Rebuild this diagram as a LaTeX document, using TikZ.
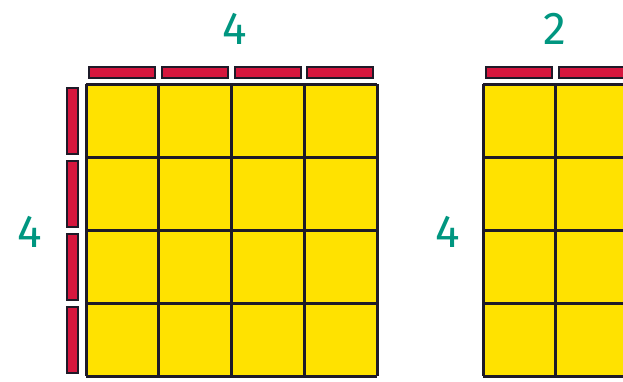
\documentclass[tikz,border=0pt]{standalone}
\usepackage{fontspec}
\setsansfont{Fira Sans}
\usetikzlibrary{positioning}

\definecolor{tileyellow}{RGB}{255,226,0}
\definecolor{barred}{RGB}{214,22,62}
\definecolor{numteal}{RGB}{0,150,128}
\definecolor{edgedark}{RGB}{30,26,40}

\tikzset{
  gridline/.style={line width=3pt,draw=edgedark},
  rodbar/.style={fill=barred,draw=edgedark,line width=2pt},
  numlabel/.style={text=numteal,font=\sffamily\fontsize{46}{46}\selectfont,inner sep=0pt}
}

\begin{document}
\begin{tikzpicture}[x=1pt,y=-1pt]
\useasboundingbox (0,0) rectangle (623,381);
\clip (0,0) rectangle (623,381);

% left square: 4 by 4
\fill[tileyellow] (86,84) rectangle (377,376);
\foreach \i in {0,...,4} {
  \draw[gridline] (86+\i*72.75,84) -- ++(0,292);
  \draw[gridline] (86,84+\i*73) -- ++(291,0);
}
\foreach \i in {0,...,3} {
  \draw[rodbar] (89+\i*72.75,67) rectangle ++(66,11);
  \draw[rodbar] (67,88+\i*73) rectangle ++(11,66);
}

% right square: 4 by 2
\fill[tileyellow] (483,84) rectangle (628,376);
\foreach \i in {0,...,2} {
  \draw[gridline] (483+\i*72.5,84) -- ++(0,292);
}
\foreach \i in {0,...,4} {
  \draw[gridline] (483,84+\i*73) -- ++(145,0);
}
\foreach \i in {0,...,1} {
  \draw[rodbar] (486+\i*72.5,67) rectangle ++(66,11);
}

% numbers
\node[numlabel] (topfour) at (235,29) {4};
\node[numlabel] (sidefour) at (30,232) {4};
\node[numlabel] (toptwo) at (555,29) {2};
\node[numlabel] (sidefourb) at (448,232) {4};
\end{tikzpicture}
\end{document}
